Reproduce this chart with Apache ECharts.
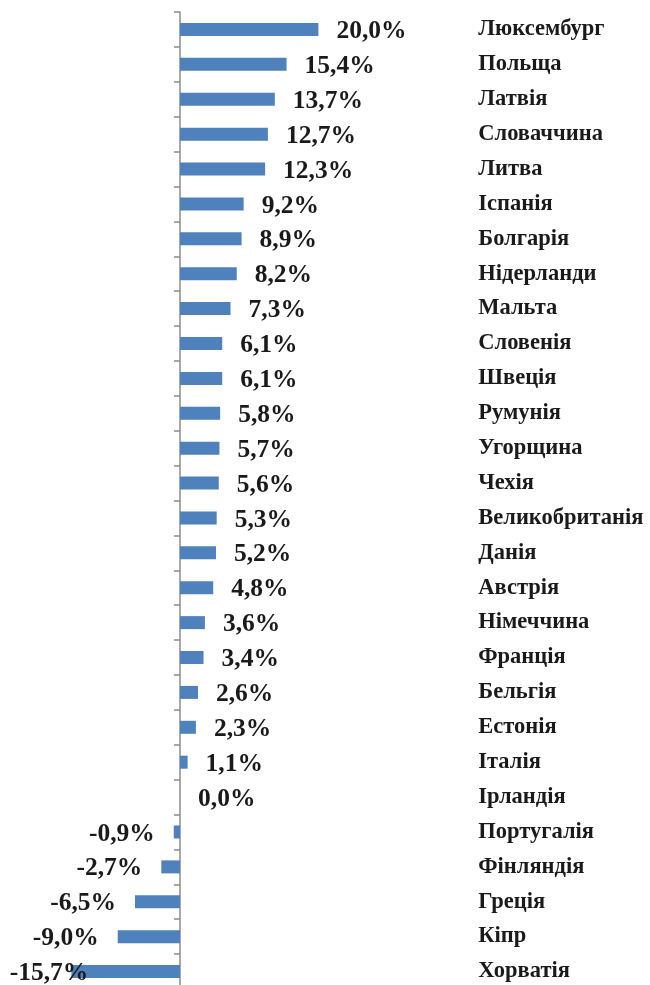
<!DOCTYPE html>
<html>
<head>
<meta charset="utf-8">
<script src="https://cdn.jsdelivr.net/npm/echarts@6/dist/echarts.min.js"></script>
<style>html,body{margin:0;padding:0;background:#fff;}#c{width:650px;height:985px;}</style>
</head>
<body>
<div id="c"></div>
<script>
const categories = ['Люксембург','Польща','Латвія','Словаччина','Литва','Іспанія','Болгарія','Нідерланди','Мальта','Словенія','Швеція','Румунія','Угорщина','Чехія','Великобританія','Данія','Австрія','Німеччина','Франція','Бельгія','Естонія','Італія','Ірландія','Португалія','Фінляндія','Греція','Кіпр','Хорватія'];
const values = [20.0,15.4,13.7,12.7,12.3,9.2,8.9,8.2,7.3,6.1,6.1,5.8,5.7,5.6,5.3,5.2,4.8,3.6,3.4,2.6,2.3,1.1,0.0,-0.9,-2.7,-6.5,-9.0,-15.7];

const font = 'Liberation Serif, Times New Roman, serif';
const pxPer = 6.92;
const zeroX = 180;
const xMin = -16, xMax = 20;

const data = values.map((v, i) => {
  const item = { value: v, label: { position: v < 0 ? 'left' : 'right', distance: v < 0 ? 19 : 18 } };
  if (v < -15) item.label.distance = -17;
  return item;
});

const chart = echarts.init(document.getElementById('c'));
chart.setOption({
  animation: false,
  grid: { left: zeroX + xMin * pxPer, width: (xMax - xMin) * pxPer, top: 12, height: 977, containLabel: false, outerBoundsMode: 'none' },
  xAxis: { type: 'value', min: xMin, max: xMax, show: false },
  yAxis: {
    type: 'category', inverse: true, data: categories,
    axisLine: { onZero: true, lineStyle: { color: '#8c8c8c', width: 1.5 } },
    axisTick: { show: true, length: 6, lineStyle: { color: '#8c8c8c', width: 1.5 } },
    axisLabel: { align: 'left', margin: -409, color: '#1a1a1a', fontFamily: font, fontWeight: 'bold', fontSize: 22.5, interval: 0, padding: [4, 0, 0, 0] },
    splitLine: { show: false }
  },
  series: [{
    type: 'bar', data: data, barWidth: 13,
    itemStyle: { color: '#4f81bd' },
    label: {
      show: true, color: '#1a1a1a', fontFamily: font, fontWeight: 'bold', fontSize: 25.5, offset: [0, 2],
      formatter: p => p.value.toFixed(1).replace('.', ',') + '%'
    }
  }]
});
</script>
</body>
</html>
